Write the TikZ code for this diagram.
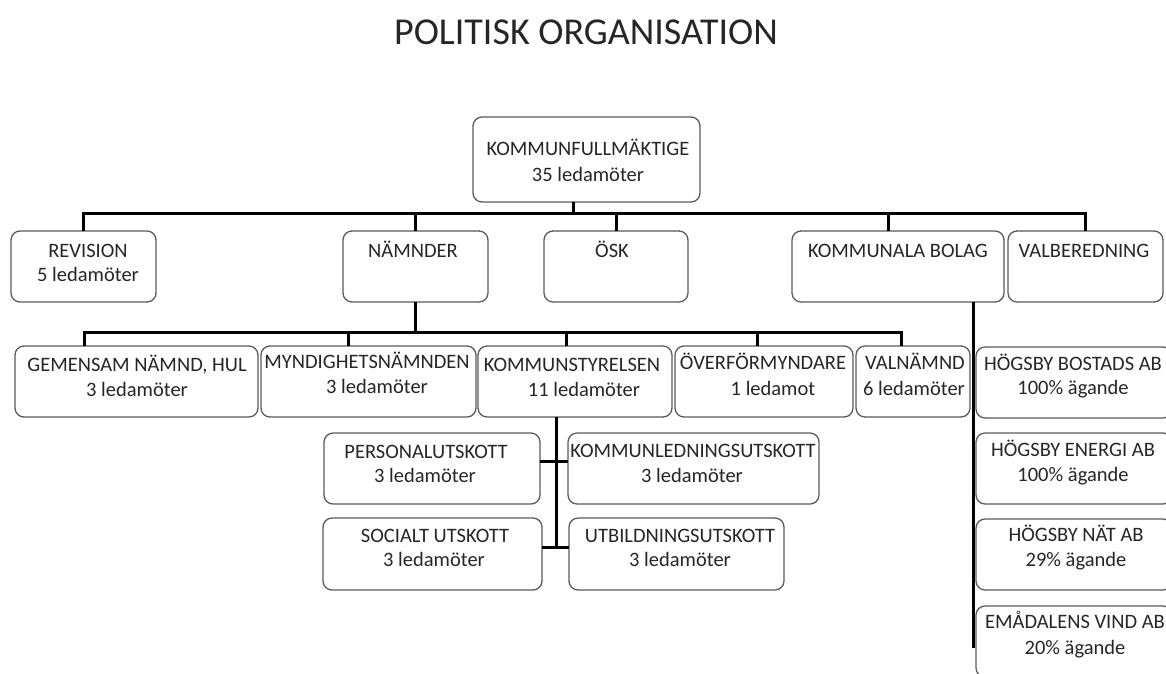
\documentclass[tikz,border=0pt]{standalone}
\usepackage{fontspec}
\setmainfont{Carlito}
\usetikzlibrary{calc}
\definecolor{txt}{HTML}{262626}
\definecolor{boxgray}{HTML}{5A5A5A}
\tikzset{
  box/.style={draw=boxgray, line width=1.3pt, rounded corners=9pt, inner sep=0pt, outer sep=0pt, fill=white},
  lbl/.style={inner sep=0pt, outer sep=0pt, text=txt, font=\fontsize{20.5}{25}\selectfont, anchor=base},
  conn/.style={line width=3pt, draw=black},
}
\newcommand\mkbox[5]{\node[box, minimum width={(#4-#2)*1pt}, minimum height={(#5-#3)*1pt}] (#1) at ({(#2+#4)/2},{(#3+#5)/2}) {};}
\begin{document}
\begin{tikzpicture}[x=1pt,y=-1pt]
\useasboundingbox (0,0) rectangle (1166,673);
\clip (0,0) rectangle (1166,673);
% title
\node[inner sep=0pt, text=txt, font=\fontsize{38}{40}\selectfont, anchor=base] (title) at (586,44) {POLITISK ORGANISATION};
% top
\mkbox{kfm}{473}{117}{700}{202}
\node[lbl] (kfma) at (588,155) {KOMMUNFULLMÄKTIGE};
\node[lbl] (kfmb) at (588,181) {35 ledamöter};
% row 1
\mkbox{rev}{11}{231}{156}{302}
\mkbox{nam}{343}{231}{488}{302}
\mkbox{osk}{544}{231}{688}{302}
\mkbox{kb}{792}{231}{1004}{302}
\mkbox{val}{1008}{231}{1163}{302}
\node[lbl] (reva) at (88,257) {REVISION};
\node[lbl] (revb) at (88,281) {5 ledamöter};
\node[lbl] (nama) at (413,257) {NÄMNDER};
\node[lbl] (oska) at (612,257) {ÖSK};
\node[lbl] (kba) at (898,257) {KOMMUNALA BOLAG};
\node[lbl] (vala) at (1084,257) {VALBEREDNING};
% row 2
\mkbox{gem}{15}{346}{258}{417}
\mkbox{myn}{261}{346}{476}{417}
\mkbox{ks}{478}{346}{672}{417}
\mkbox{ovf}{675}{346}{853}{417}
\mkbox{valn}{856}{346}{970}{417}
\node[lbl] (gema) at (137,371) {GEMENSAM NÄMND, HUL};
\node[lbl] (gemb) at (137,396) {3 ledamöter};
\node[lbl] (myna) at (367,368.5) {MYNDIGHETSNÄMNDEN};
\node[lbl] (mynb) at (377,393.5) {3 ledamöter};
\node[lbl] (ksa) at (572,371) {KOMMUNSTYRELSEN};
\node[lbl] (ksb) at (584,396) {11 ledamöter};
\node[lbl] (ovfa) at (763,369.5) {ÖVERFÖRMYNDARE};
\node[lbl] (ovfb) at (773,395) {1 ledamot};
\node[lbl] (valna) at (915,369.5) {VALNÄMND};
\node[lbl] (valnb) at (914,395) {6 ledamöter};
% row 3
\mkbox{pers}{324}{433}{540}{504}
\mkbox{kl}{568}{433}{819}{504}
\mkbox{soc}{323}{518}{542}{590}
\mkbox{utb}{569}{518}{784}{590}
\node[lbl] (persa) at (426,458.5) {PERSONALUTSKOTT};
\node[lbl] (persb) at (425,482) {3 ledamöter};
\node[lbl] (kla) at (693,457) {KOMMUNLEDNINGSUTSKOTT};
\node[lbl] (klb) at (692,482) {3 ledamöter};
\node[lbl] (soca) at (435,542.5) {SOCIALT UTSKOTT};
\node[lbl] (socb) at (434,566.5) {3 ledamöter};
\node[lbl] (utba) at (680,542.5) {UTBILDNINGSUTSKOTT};
\node[lbl] (utbb) at (680,566.5) {3 ledamöter};
% companies
\mkbox{hb}{976}{347}{1172}{418}
\mkbox{he}{976}{433}{1172}{504}
\mkbox{hn}{976}{519}{1172}{590}
\mkbox{ev}{976}{606}{1172}{677}
\node[lbl] (hba) at (1073,370) {HÖGSBY BOSTADS AB};
\node[lbl] (hbb) at (1073,394.5) {100\% ägande};
\node[lbl] (hea) at (1073,456.5) {HÖGSBY ENERGI AB};
\node[lbl] (heb) at (1073,481.5) {100\% ägande};
\node[lbl] (hna) at (1076,541.5) {HÖGSBY NÄT AB};
\node[lbl] (hnb) at (1076,566.5) {29\% ägande};
\node[lbl] (eva) at (1075,628.5) {EMÅDALENS VIND AB};
\node[lbl] (evb) at (1075,654.5) {20\% ägande};
% connectors level 1
\coordinate (b1) at (0,213);
\coordinate (kfmd) at ($(kfm.south)+(-13.5,0)$);
\coordinate (kbt) at ($(kb.north)+(-9.5,0)$);
\draw[conn] (kfmd) -- (kfmd |- b1);
\draw[conn] (rev.north) |- (b1 -| val.north) -- (val.north);
\draw[conn] (nam.north) -- (nam.north |- b1);
\draw[conn] (osk.north) -- (osk.north |- b1);
\draw[conn] (kbt) -- (kbt |- b1);
% connectors level 2
\coordinate (b2) at (0,332);
\coordinate (gemt) at ($(gem.north west)+(69,0)$);
\coordinate (mynt) at ($(myn.north west)+(87,0)$);
\coordinate (kst) at ($(ks.north west)+(88,0)$);
\coordinate (ovft) at ($(ovf.north west)+(82,0)$);
\coordinate (valnt) at ($(valn.north west)+(45,0)$);
\draw[conn] (nam.south) -- (nam.south |- b2);
\draw[conn] (gemt) |- (b2 -| valnt) -- (valnt);
\draw[conn] (mynt) -- (mynt |- b2);
\draw[conn] (kst) -- (kst |- b2);
\draw[conn] (ovft) -- (ovft |- b2);
% KS committees
\coordinate (ksd) at ($(ks.south west)+(78,0)$);
\coordinate (t1) at ($(pers.east)+(0,-7.5)$);
\coordinate (t2) at ($(soc.east)+(0,-7)$);
\draw[conn] (ksd) -- (ksd |- t2);
\draw[conn] (t1) -- (t1 -| kl.west);
\draw[conn] (t2) -- (t2 -| utb.west);
% companies line
\coordinate (kbd) at ($(kb.south)+(75.5,0)$);
\coordinate (kbend) at (0,648);
\draw[conn] (kbd) -- (kbd |- kbend);
\end{tikzpicture}
\end{document}
